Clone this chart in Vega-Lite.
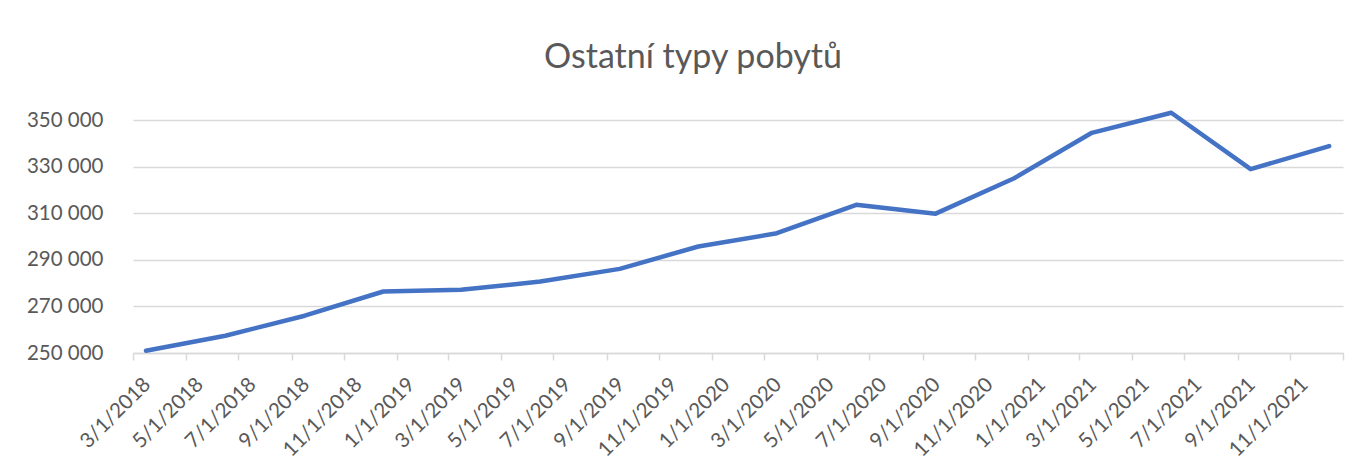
{
  "$schema": "https://vega.github.io/schema/vega-lite/v6.json",
  "autosize": {"type": "none"},
  "width": 1210,
  "height": 233,
  "padding": {"left": 133, "top": 120, "right": 26, "bottom": 119},
  "background": "white",
  "title": {
    "text": "Ostatní typy pobytů",
    "anchor": "middle",
    "dx": -45,
    "offset": 35,
    "font": "Lato",
    "fontSize": 34,
    "fontWeight": "normal",
    "color": "#595959"
  },
  "data": {
    "values": [
      {"date": "2018-03-16T00:00:00", "value": 251000},
      {"date": "2018-06-16T00:00:00", "value": 257400},
      {"date": "2018-09-16T00:00:00", "value": 266000},
      {"date": "2018-12-16T00:00:00", "value": 276400},
      {"date": "2019-03-16T00:00:00", "value": 277100},
      {"date": "2019-06-16T00:00:00", "value": 280700},
      {"date": "2019-09-16T00:00:00", "value": 286100},
      {"date": "2019-12-16T00:00:00", "value": 295700},
      {"date": "2020-03-16T00:00:00", "value": 301400},
      {"date": "2020-06-16T00:00:00", "value": 313600},
      {"date": "2020-09-16T00:00:00", "value": 309800},
      {"date": "2020-12-16T00:00:00", "value": 325000},
      {"date": "2021-03-16T00:00:00", "value": 344500},
      {"date": "2021-06-16T00:00:00", "value": 353100},
      {"date": "2021-09-16T00:00:00", "value": 328900},
      {"date": "2021-12-16T00:00:00", "value": 338800}
    ]
  },
  "mark": {"type": "line", "color": "#4472C4", "strokeWidth": 4.5, "strokeCap": "round", "strokeJoin": "round", "clip": false},
  "encoding": {
    "x": {
      "field": "date",
      "type": "temporal",
      "scale": {"domain": [{"year": 2018, "month": 3, "date": 1}, {"year": 2022, "month": 1, "date": 1}]},
      "axis": {
        "title": null,
        "values": [
          {"year": 2018, "month": 3, "date": 1}, {"year": 2018, "month": 5, "date": 1}, {"year": 2018, "month": 7, "date": 1}, {"year": 2018, "month": 9, "date": 1}, {"year": 2018, "month": 11, "date": 1},
          {"year": 2019, "month": 1, "date": 1}, {"year": 2019, "month": 3, "date": 1}, {"year": 2019, "month": 5, "date": 1}, {"year": 2019, "month": 7, "date": 1}, {"year": 2019, "month": 9, "date": 1}, {"year": 2019, "month": 11, "date": 1},
          {"year": 2020, "month": 1, "date": 1}, {"year": 2020, "month": 3, "date": 1}, {"year": 2020, "month": 5, "date": 1}, {"year": 2020, "month": 7, "date": 1}, {"year": 2020, "month": 9, "date": 1}, {"year": 2020, "month": 11, "date": 1},
          {"year": 2021, "month": 1, "date": 1}, {"year": 2021, "month": 3, "date": 1}, {"year": 2021, "month": 5, "date": 1}, {"year": 2021, "month": 7, "date": 1}, {"year": 2021, "month": 9, "date": 1}, {"year": 2021, "month": 11, "date": 1},
          {"year": 2022, "month": 1, "date": 1}
        ],
        "labelExpr": "year(datum.value) >= 2022 ? '' : timeFormat(datum.value, '%-m/%-d/%Y')",
        "labelAngle": -45,
        "labelAlign": "right",
        "labelBaseline": "middle",
        "labelOffset": 14,
        "labelPadding": 21,
        "labelFont": "Lato",
        "labelFontSize": 20.5,
        "labelColor": "#595959",
        "labelOverlap": false,
        "labelBound": false,
        "labelFlush": false,
        "grid": false,
        "domainColor": "#d9d9d9",
        "domainWidth": 1.5,
        "tickColor": "#d9d9d9",
        "tickWidth": 1.5,
        "tickSize": 7
      }
    },
    "y": {
      "field": "value",
      "type": "quantitative",
      "scale": {"domain": [250000, 350000], "nice": false, "zero": false},
      "axis": {
        "title": null,
        "values": [250000, 270000, 290000, 310000, 330000, 350000],
        "labelExpr": "replace(format(datum.value, ',d'), ',', ' ')",
        "labelFont": "Lato",
        "labelFontSize": 20.5,
        "labelColor": "#595959",
        "labelPadding": 30,
        "domain": false,
        "ticks": false,
        "gridColor": "#d9d9d9",
        "gridWidth": 1.5
      }
    }
  },
  "config": {"view": {"stroke": null}}
}
